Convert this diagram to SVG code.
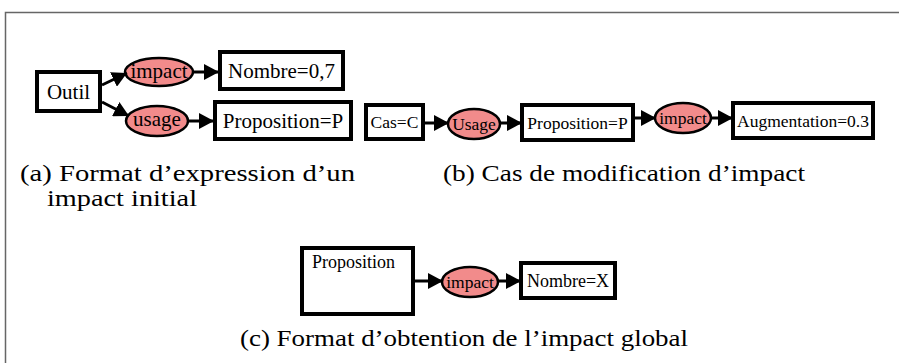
<svg xmlns="http://www.w3.org/2000/svg" width="899" height="363" viewBox="0 0 899 363">
<defs>
<marker id="ah" markerUnits="userSpaceOnUse" markerWidth="16" markerHeight="16" refX="15" refY="8" orient="auto">
<path d="M0,0 L15,8 L0,16 z" fill="#000"/>
</marker>
<style>
.box{fill:#fff;stroke:#000;stroke-width:4}
.ell{fill:#f28b8b;stroke:#000;stroke-width:2.5}
.edge{stroke:#000;stroke-width:3;fill:none;marker-end:url(#ah)}
</style>
</defs>
<rect width="899" height="363" fill="#fff"/>
<path d="M5.5,363 L5.5,12.5 L899,12.5" fill="none" stroke="#666" stroke-width="1.5"/>

<g font-family="Liberation Serif, serif" fill="#000" text-anchor="middle">
<g font-size="21">
<g id="a-outil"><rect class="box" x="37" y="72" width="63" height="39"/><text x="68.5" y="99">Outil</text></g>
<g id="a-impact"><ellipse class="ell" cx="159" cy="72" rx="34" ry="14"/><text x="159" y="78">impact</text></g>
<g id="a-nombre"><rect class="box" x="220" y="52" width="123" height="37"/><text x="281.5" y="78">Nombre=0,7</text></g>
<g id="a-usage"><ellipse class="ell" cx="157" cy="121" rx="31" ry="15"/><text x="157" y="126">usage</text></g>
<g id="a-prop"><rect class="box" x="215" y="102" width="136" height="37"/><text x="283" y="128">Proposition=P</text></g>
</g>
<g font-size="17.5">
<g id="b-cas"><rect class="box" x="366" y="105" width="57" height="34"/><text x="394.5" y="128">Cas=C</text></g>
<g id="b-usage"><ellipse class="ell" cx="474" cy="124" rx="26" ry="15"/><text x="474" y="130">Usage</text></g>
<g id="b-prop"><rect class="box" x="522" y="105" width="111" height="35"/><text x="577.5" y="128.5">Proposition=P</text></g>
<g id="b-impact"><ellipse class="ell" cx="683" cy="118" rx="28" ry="15"/><text x="683" y="124">impact</text></g>
<g id="b-aug"><rect class="box" x="733" y="103" width="140" height="35"/><text x="803" y="126.5">Augmentation=0.3</text></g>
<g id="c-prop"><rect class="box" x="302" y="248" width="111" height="66"/><text x="312" y="268" text-anchor="start" font-size="18">Proposition</text></g>
<g id="c-impact"><ellipse class="ell" cx="470" cy="282" rx="28" ry="15"/><text x="470" y="288">impact</text></g>
<g id="c-nombre"><rect class="box" x="521" y="263" width="94" height="35"/><text x="568" y="287" font-size="18">Nombre=X</text></g>
</g>
</g>

<g id="connectors">
<line class="edge" x1="102" y1="85" x2="127" y2="73"/>
<line class="edge" x1="102" y1="102" x2="129" y2="116"/>
<line class="edge" x1="193" y1="72" x2="219" y2="72"/>
<line class="edge" x1="188" y1="121" x2="214" y2="121"/>
<line class="edge" x1="425" y1="123" x2="449" y2="123"/>
<line class="edge" x1="500" y1="123" x2="522" y2="123"/>
<line class="edge" x1="634" y1="118" x2="656" y2="118"/>
<line class="edge" x1="711" y1="118" x2="733" y2="118"/>
<line class="edge" x1="414" y1="281" x2="443" y2="281"/>
<line class="edge" x1="498" y1="281" x2="521" y2="281"/>
</g>

<g id="captions" font-family="Liberation Serif, serif" font-size="23" fill="#000">
<text x="20" y="181" textLength="335" lengthAdjust="spacingAndGlyphs">(a) Format  d’expression  d’un</text>
<text x="47" y="206" textLength="150" lengthAdjust="spacingAndGlyphs">impact initial</text>
<text x="443" y="181" textLength="362" lengthAdjust="spacingAndGlyphs">(b) Cas de modification d’impact</text>
<text x="240" y="346" textLength="448" lengthAdjust="spacingAndGlyphs">(c) Format d’obtention de l’impact global</text>
</g>
</svg>
